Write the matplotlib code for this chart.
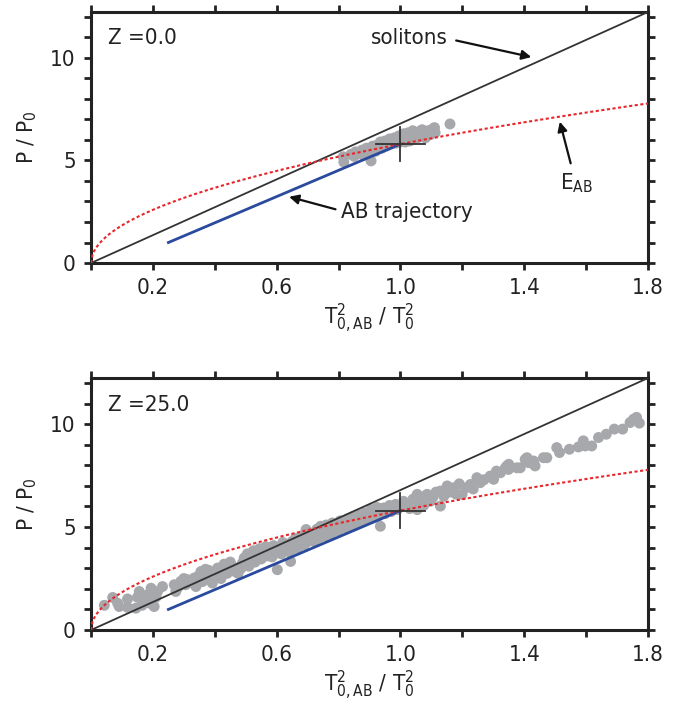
import numpy as np
import matplotlib
matplotlib.use("Agg")
import matplotlib.pyplot as plt
from matplotlib.ticker import MultipleLocator, FuncFormatter

plt.rcParams['font.family'] = ['DejaVu Sans']
plt.rcParams['font.stretch'] = 'condensed'
plt.rcParams['mathtext.fontset'] = 'custom'
plt.rcParams['mathtext.rm'] = 'DejaVu Sans:stretch=condensed'
plt.rcParams['mathtext.it'] = 'DejaVu Sans:stretch=condensed'

# ---------------- data ----------------
soliton_slope = 6.8          # P/P0 = 6.8 x
eab_scale = 5.8              # E_AB: P/P0 = 5.8 sqrt(x)
ab_traj_x = [0.25, 1.0]
ab_traj_y = [1.0, 5.8]
cross_x = 1.0
cross_y = 5.8
cross_dx = 0.08
cross_dy = 0.85

top_x = [0.815, 0.817, 0.84, 0.85, 0.855, 0.87, 0.875, 0.88, 0.89, 0.895, 0.905, 0.905,
         0.91, 0.92, 0.925, 0.93, 0.935, 0.94, 0.945, 0.95, 0.955, 0.96, 0.965, 0.97,
         0.975, 0.98, 0.985, 0.99, 0.995, 1.0, 1.005, 1.01, 1.015, 1.02, 1.025, 1.03,
         1.035, 1.04, 1.045, 1.05, 1.055, 1.06, 1.065, 1.07, 1.075, 1.08, 1.085, 1.09,
         1.095, 1.1, 1.105, 1.11, 1.112, 1.16]
top_y = [5.18, 4.92, 5.3, 5.2, 5.42, 5.35, 5.5, 5.25, 5.6, 5.4, 4.98, 5.55,
         5.7, 5.45, 5.75, 5.6, 5.9, 5.6, 5.8, 5.95, 5.7, 5.85, 6.05, 5.8,
         5.9, 6.1, 5.85, 6.0, 6.2, 5.9, 6.1, 6.3, 5.9, 6.15, 6.35, 5.95,
         6.2, 6.45, 6.05, 6.3, 6.1, 6.4, 6.2, 6.5, 6.3, 6.1, 6.35, 6.45,
         6.25, 6.4, 6.55, 6.6, 6.35, 6.78]

bot_x = [0.043, 0.07, 0.086, 0.091, 0.118, 0.118, 0.145, 0.15, 0.156, 0.172, 0.183, 0.194,
         0.199, 0.204, 0.215, 0.231, 0.165, 0.19, 0.21,
         0.269, 0.274, 0.29, 0.306, 0.312, 0.333, 0.339, 0.355, 0.366, 0.376, 0.392, 0.409,
         0.419, 0.435, 0.457, 0.462, 0.489, 0.484, 0.28, 0.3, 0.32, 0.345, 0.36, 0.38, 0.4,
         0.42, 0.44, 0.45, 0.47, 0.475, 0.495, 0.37, 0.43,
         0.5, 0.505, 0.51, 0.52, 0.525, 0.53, 0.54, 0.545, 0.55, 0.56, 0.565, 0.57, 0.58,
         0.585, 0.59, 0.6, 0.602, 0.61, 0.615, 0.62, 0.63, 0.635, 0.64, 0.645, 0.65, 0.655,
         0.66, 0.665, 0.67, 0.68, 0.685, 0.69, 0.695, 0.7, 0.705, 0.71, 0.715, 0.72, 0.725,
         0.73, 0.735, 0.742, 0.745,
         0.75, 0.755, 0.76, 0.765, 0.77, 0.775, 0.78, 0.79, 0.795, 0.8, 0.805, 0.81, 0.82,
         0.825, 0.83, 0.84, 0.845, 0.85, 0.86, 0.865, 0.87, 0.88, 0.885, 0.89, 0.9, 0.905,
         0.91, 0.92, 0.925, 0.93, 0.935, 0.94, 0.946, 0.95, 0.96, 0.965, 0.97, 0.98, 0.984,
         0.99, 1.0,
         1.01, 1.02, 1.03, 1.04, 1.054, 1.054, 1.06, 1.07, 1.075, 1.086, 1.097, 1.105, 1.115,
         1.129, 1.129, 1.14, 1.151, 1.16, 1.172, 1.18, 1.19, 1.199, 1.21, 1.226, 1.235, 1.247,
         1.258, 1.27, 1.29, 1.301,
         1.31, 1.323, 1.339, 1.344, 1.349, 1.35, 1.376, 1.387, 1.403, 1.409, 1.414, 1.43,
         1.435, 1.462, 1.473, 1.505, 1.514, 1.546, 1.575, 1.591, 1.597, 1.618, 1.64, 1.665,
         1.691, 1.718, 1.742, 1.753, 1.763, 1.772]
bot_y = [1.2, 1.58, 1.30, 1.14, 1.51, 1.1, 1.06, 1.59, 1.87, 1.38, 1.71, 2.03,
         1.46, 1.14, 1.87, 2.11, 1.2, 1.3, 1.6,
         2.2, 1.87, 2.36, 2.2, 2.44, 2.52, 2.11, 2.84, 2.44, 2.68, 2.28, 3.01,
         2.76, 3.01, 3.09, 2.86, 3.25, 2.98, 2.05, 2.5, 2.3, 2.6, 2.35, 2.9, 2.55,
         2.5, 2.75, 3.3, 3.0, 2.75, 3.5, 2.95, 3.2,
         3.3, 3.7, 3.1, 3.5, 3.85, 3.3, 3.6, 3.95, 3.45, 3.75, 4.05, 3.6, 3.85,
         3.55, 4.1, 3.75, 2.93, 4.0, 3.7, 4.25, 3.9, 4.15, 3.8, 3.33, 4.3, 3.95,
         4.45, 4.1, 4.0, 4.35, 4.6, 4.15, 4.88, 4.3, 4.55, 4.35, 4.7, 4.3, 4.5,
         4.9, 4.45, 5.04, 4.6,
         4.8, 4.55, 5.1, 4.7, 4.95, 4.65, 5.2, 4.85, 5.05, 4.8, 5.3, 5.0, 5.2,
         4.95, 5.4, 5.1, 5.5, 5.1, 5.3, 5.6, 5.25, 5.45, 5.7, 5.35, 5.55, 5.85,
         5.45, 5.65, 5.95, 5.55, 5.04, 5.75, 5.93, 5.65, 5.85, 6.05, 5.75, 5.9, 6.1,
         5.85, 6.0,
         6.25, 6.1, 5.9, 6.35, 6.59, 5.85, 6.2, 6.45, 6.05, 6.59, 6.26, 6.45, 6.7,
         6.02, 6.75, 6.5, 7.0, 6.7, 6.91, 6.6, 7.1, 6.59, 6.9, 7.07, 6.85, 7.4,
         7.16, 7.3, 7.48, 7.32,
         7.72, 7.64, 7.88, 7.97, 7.8, 8.05, 7.88, 7.88, 8.29, 8.37, 8.13, 8.21,
         7.97, 8.37, 8.37, 8.86, 8.62, 8.78, 8.89, 9.19, 8.94, 8.94, 9.35, 9.51,
         9.76, 9.76, 10.08, 10.24, 10.33, 10.05]

x_ticks_labeled = [0.2, 0.6, 1.0, 1.4, 1.8]
y_ticks_labeled = [0, 5, 10]
panel_titles = ["Z =0.0", "Z =25.0"]

XMAX = 1.8
YMAX = soliton_slope * XMAX

GRAY = '#a7a8ab'
BLUE = '#2a4a9e'
RED = '#e8262b'
DARK = '#333333'

fig = plt.figure(figsize=(6.88, 7.13), dpi=100)
ax1 = fig.add_axes([0.1323, 0.6311, 0.8096, 0.3521])
ax2 = fig.add_axes([0.1323, 0.1164, 0.8096, 0.3534])

xs = np.linspace(0, XMAX, 400)


def fmt_x(v, pos):
    for t in x_ticks_labeled:
        if abs(v - t) < 1e-6:
            return f"{t:.1f}"
    return ""


def fmt_y(v, pos):
    for t in y_ticks_labeled:
        if abs(v - t) < 1e-6:
            return f"{t:d}"
    return ""


def style(ax):
    ax.set_xlim(0, XMAX)
    ax.set_ylim(0, YMAX)
    ax.xaxis.set_major_locator(MultipleLocator(0.2))
    ax.yaxis.set_major_locator(MultipleLocator(1))
    ax.xaxis.set_major_formatter(FuncFormatter(fmt_x))
    ax.yaxis.set_major_formatter(FuncFormatter(fmt_y))
    ax.tick_params(direction='out', length=5, width=2, top=True, right=True,
                   labelsize=16, color='#222222', labelcolor='#222222', pad=6)
    for s in ax.spines.values():
        s.set_linewidth(2.2)
        s.set_color('#222222')
    ax.set_xlabel(r'$\mathrm{T}^{2}_{0,\mathrm{AB}}\ /\ \mathrm{T}^{2}_{0}$', fontsize=16,
                  color='#222222', labelpad=2)
    ax.set_ylabel(r'P / P$_\mathrm{0}$', fontsize=16, color='#222222', labelpad=8)


def draw(ax, px, py, title):
    ax.scatter(px, py, s=62, color=GRAY, edgecolors='none', zorder=1, clip_on=False)
    ax.plot(xs, soliton_slope * xs, color=DARK, lw=1.3, zorder=3)
    ax.plot(xs, eab_scale * np.sqrt(xs), color=RED, lw=1.5, ls=(0, (1.5, 1.2)), zorder=4)
    ax.plot(ab_traj_x, ab_traj_y, color=BLUE, lw=2.0, zorder=2)
    ax.plot([cross_x - cross_dx, cross_x + cross_dx], [cross_y, cross_y], color=DARK, lw=1.3, zorder=5)
    ax.plot([cross_x, cross_x], [cross_y - cross_dy, cross_y + cross_dy], color=DARK, lw=1.3, zorder=5)
    ax.text(0.055, 10.95, title, fontsize=16, color='#222222', va='center', ha='left')
    style(ax)


draw(ax1, top_x, top_y, panel_titles[0])
draw(ax2, bot_x, bot_y, panel_titles[1])

arrow = dict(arrowstyle='-|>', color='#111111', lw=1.6, mutation_scale=14, shrinkA=0, shrinkB=0)
ax1.text(1.03, 10.95, 'solitons', fontsize=16, color='#222222', ha='center', va='center')
ax1.annotate('', xy=(1.423, 10.04), xytext=(1.18, 10.85), arrowprops=arrow)
ax1.text(1.57, 3.9, r'E$_\mathrm{AB}$', fontsize=16, color='#222222', ha='center', va='center')
ax1.annotate('', xy=(1.515, 6.89), xytext=(1.55, 4.86), arrowprops=arrow)
ax1.text(1.02, 2.5, 'AB trajectory', fontsize=16, color='#222222', ha='center', va='center')
ax1.annotate('', xy=(0.64, 3.23), xytext=(0.79, 2.62), arrowprops=arrow)

fig.savefig('out.png', dpi=100)
